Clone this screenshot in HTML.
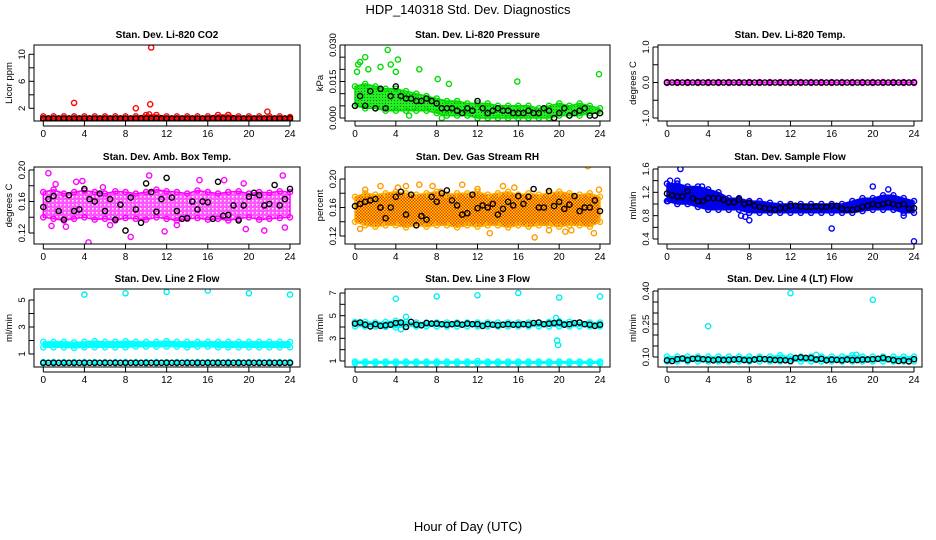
<!DOCTYPE html>
<html><head><meta charset="utf-8"><style>
html,body{margin:0;padding:0;background:#fff;}
svg{display:block;font-family:"Liberation Sans",sans-serif;}
</style></head><body>
<svg id="chart" width="936" height="540" viewBox="0 0 936 540" xmlns="http://www.w3.org/2000/svg">
<defs>
<pattern id="patGreen" width="3" height="3" patternUnits="userSpaceOnUse"><rect width="3" height="3" fill="#22ee22"/><rect x="1" y="1" width="1" height="1" fill="#117711"/></pattern>
<pattern id="patOrange" width="3" height="3" patternUnits="userSpaceOnUse"><rect width="3" height="3" fill="#ffdd00"/><rect x="0" y="0" width="1.5" height="1.5" fill="#ee3300"/><rect x="1.5" y="1.5" width="1.5" height="1.5" fill="#ee3300"/></pattern>
<pattern id="patMagenta" width="4" height="4" patternUnits="userSpaceOnUse"><rect width="4" height="4" fill="#ff55ff"/><rect x="0" y="0" width="1.5" height="1.5" fill="#ffffff"/></pattern>
</defs>
<text x="468" y="14" text-anchor="middle" font-size="13">HDP_140318  Std. Dev. Diagnostics</text>
<text x="468" y="531" text-anchor="middle" font-size="13">Hour of Day (UTC)</text>
</svg>
<script>
const hours = [0,1,2,3,4,5,6,7,8,9,10,11,12,13,14,15,16,17,18,19,20,21,22,23,24];
const halfHours = [0,0.5,1,1.5,2,2.5,3,3.5,4,4.5,5,5.5,6,6.5,7,7.5,8,8.5,9,9.5,10,10.5,11,11.5,12,12.5,13,13.5,14,14.5,15,15.5,16,16.5,17,17.5,18,18.5,19,19.5,20,20.5,21,21.5,22,22.5,23,23.5,24];
const xTicks = [0,4,8,12,16,20,24];

// Panel 1: CO2
const co2Hi = [0.8,0.8,0.8,0.8,0.8,0.8,0.8,0.8,0.8,0.8,1.0,1.0,0.8,0.8,0.8,0.8,0.8,1.0,1.0,0.8,0.8,0.8,0.8,0.8,0.7];
const co2Lo = [0.25,0.25,0.25,0.25,0.25,0.25,0.25,0.25,0.25,0.25,0.25,0.25,0.25,0.25,0.25,0.25,0.25,0.25,0.25,0.25,0.25,0.25,0.25,0.25,0.25];
const co2Black = [0.5,0.5,0.5,0.5,0.5,0.5,0.5,0.5,0.5,0.5,0.5,0.5,0.5,0.5,0.5,0.5,0.5,0.5,0.5,0.5,0.5,0.5,0.5,0.5,0.5,0.5,0.5,0.5,0.5,0.5,0.5,0.5,0.5,0.5,0.5,0.5,0.5,0.5,0.5,0.5,0.5,0.5,0.5,0.5,0.5,0.5,0.5,0.5,0.5];
const co2OutX = [3,9,10.5,10.4,21.8,10.3,18];
const co2OutY = [2.8,2.0,11.0,2.6,1.5,1.1,1.0];

// Panel 2: Pressure
const presHi = [0.013,0.014,0.013,0.012,0.012,0.011,0.010,0.009,0.008,0.007,0.007,0.006,0.006,0.006,0.005,0.005,0.005,0.005,0.004,0.005,0.006,0.005,0.006,0.005,0.004];
const presLo = [0.005,0.004,0.004,0.003,0.003,0.003,0.003,0.003,0.002,0.001,0.001,0.001,0.000,0.000,0.000,0.000,0.000,0.000,0.000,0.000,0.001,0.001,0.001,0.002,0.002];
const presBlack = [0.005,0.009,0.005,0.011,0.004,0.012,0.004,0.009,0.013,0.009,0.008,0.008,0.007,0.007,0.008,0.007,0.006,0.004,0.004,0.004,0.003,0.002,0.004,0.003,0.007,0.004,0.002,0.003,0.004,0.003,0.003,0.002,0.002,0.002,0.003,0.002,0.002,0.004,0.003,0.000,0.002,0.004,0.001,0.002,0.003,0.004,0.001,0.001,0.002];
const presOutX = [0.2,0.3,0.5,1.0,3.2,2.5,3.5,4.2,6.3,4.0,8.1,15.9,23.9,1.3,9.2,5.3,8.5];
const presOutY = [0.019,0.022,0.023,0.025,0.028,0.021,0.022,0.024,0.020,0.019,0.016,0.015,0.018,0.020,0.014,0.001,0.000];

// Panel 3: Li-820 Temp
const tempHi = [0.01,0.01,0.01,0.01,0.01,0.01,0.01,0.01,0.01,0.01,0.01,0.01,0.01,0.01,0.01,0.01,0.01,0.01,0.01,0.01,0.01,0.01,0.01,0.01,0.01];
const tempLo = [-0.01,-0.01,-0.01,-0.01,-0.01,-0.01,-0.01,-0.01,-0.01,-0.01,-0.01,-0.01,-0.01,-0.01,-0.01,-0.01,-0.01,-0.01,-0.01,-0.01,-0.01,-0.01,-0.01,-0.01,-0.01];
const tempBlack = [0,0,0,0,0,0,0,0,0,0,0,0,0,0,0,0,0,0,0,0,0,0,0,0,0,0,0,0,0,0,0,0,0,0,0,0,0,0,0,0,0,0,0,0,0,0,0,0,0];

// Panel 4: Amb. Box Temp
const boxHi = [0.172,0.175,0.170,0.172,0.174,0.172,0.170,0.173,0.172,0.170,0.172,0.175,0.173,0.172,0.170,0.174,0.172,0.170,0.172,0.173,0.170,0.172,0.171,0.173,0.172];
const boxLo = [0.140,0.138,0.136,0.138,0.140,0.137,0.138,0.136,0.139,0.138,0.137,0.140,0.138,0.136,0.138,0.139,0.137,0.138,0.136,0.138,0.140,0.137,0.138,0.139,0.140];
const boxBlack = [0.153,0.163,0.167,0.148,0.137,0.168,0.148,0.150,0.176,0.163,0.160,0.170,0.148,0.163,0.137,0.156,0.123,0.165,0.150,0.133,0.183,0.172,0.147,0.163,0.190,0.165,0.148,0.138,0.139,0.160,0.150,0.160,0.159,0.138,0.185,0.142,0.143,0.155,0.136,0.155,0.166,0.171,0.168,0.155,0.157,0.181,0.155,0.163,0.176];
const boxOutX = [0.5,1.2,4.4,10.3,3.2,3.8,23.3,19.5,0.8,19.7,17.6,6.5,8.5,13.0,21.5,2.2,15.2,23.5,11.8,5.8];
const boxOutY = [0.196,0.182,0.108,0.193,0.185,0.186,0.193,0.183,0.129,0.125,0.187,0.130,0.115,0.130,0.123,0.128,0.187,0.127,0.122,0.178];

// Panel 5: Gas Stream RH
const rhHi = [0.175,0.180,0.178,0.180,0.182,0.180,0.178,0.180,0.182,0.178,0.180,0.180,0.182,0.178,0.180,0.182,0.178,0.180,0.178,0.180,0.182,0.180,0.178,0.180,0.175];
const rhLo = [0.140,0.135,0.133,0.135,0.135,0.132,0.135,0.133,0.135,0.135,0.132,0.135,0.133,0.135,0.135,0.132,0.135,0.133,0.135,0.135,0.133,0.135,0.135,0.133,0.140];
const rhBlack = [0.162,0.165,0.168,0.170,0.172,0.160,0.145,0.160,0.175,0.182,0.150,0.178,0.135,0.148,0.143,0.175,0.168,0.180,0.184,0.170,0.163,0.150,0.152,0.178,0.159,0.163,0.160,0.165,0.150,0.158,0.168,0.163,0.176,0.165,0.175,0.186,0.160,0.160,0.183,0.162,0.168,0.158,0.164,0.176,0.155,0.160,0.160,0.170,0.155];
const rhOutX = [0.5,1.0,4.2,5.0,7.6,8.4,10.5,12.0,13.2,15.6,17.6,19.0,20.6,21.2,22.8,23.4,23.9,2.5,14.5,6.3];
const rhOutY = [0.130,0.185,0.188,0.190,0.190,0.182,0.192,0.186,0.124,0.188,0.118,0.128,0.126,0.128,0.218,0.124,0.185,0.190,0.190,0.192];

// Panel 6: Sample Flow
const flowHi = [1.35,1.35,1.30,1.30,1.25,1.20,1.10,1.10,1.05,1.05,1.02,1.00,1.00,1.00,1.00,1.00,1.00,1.00,1.05,1.10,1.10,1.15,1.15,1.10,1.05];
const flowLo = [1.05,1.00,1.00,0.95,0.90,0.90,0.90,0.90,0.85,0.85,0.85,0.85,0.85,0.85,0.85,0.85,0.85,0.85,0.85,0.88,0.90,0.90,0.90,0.85,0.85];
const flowBlack = [1.18,1.15,1.13,1.13,1.22,1.10,1.05,1.05,1.10,1.10,1.10,1.07,1.03,1.03,1.08,1.00,1.02,0.97,0.95,0.93,0.92,0.90,0.93,0.93,0.97,0.97,0.96,0.95,0.95,0.96,0.95,0.95,0.97,0.97,0.92,0.90,0.90,0.92,0.95,0.97,1.00,0.98,1.00,1.02,1.00,0.98,1.00,0.92,0.93];
const flowOutX = [1.3,8,16,24,20,21.5,0.1,0.3,3.4,7.2,7.6,1.0,23.0];
const flowOutY = [1.60,0.72,0.58,0.36,1.30,1.25,1.05,1.40,1.30,0.80,0.78,1.40,0.80];

// Panel 7: Line 2 Flow
const l2Hi = [1.90,1.90,1.90,1.85,1.90,1.95,1.90,1.90,1.95,1.90,1.90,1.90,1.95,1.90,1.90,1.90,1.90,1.90,1.90,1.90,1.90,1.90,1.90,1.90,1.90];
const l2Lo = [1.50,1.50,1.50,1.45,1.50,1.50,1.50,1.50,1.50,1.55,1.55,1.55,1.55,1.55,1.50,1.55,1.55,1.50,1.50,1.50,1.50,1.50,1.50,1.50,1.50];
const l2LowHi = [0.40,0.40,0.40,0.40,0.40,0.40,0.40,0.40,0.40,0.40,0.40,0.40,0.40,0.40,0.40,0.40,0.40,0.40,0.40,0.40,0.40,0.40,0.40,0.40,0.40];
const l2LowLo = [0.32,0.32,0.32,0.32,0.32,0.32,0.32,0.32,0.32,0.32,0.32,0.32,0.32,0.32,0.32,0.32,0.32,0.32,0.32,0.32,0.32,0.32,0.32,0.32,0.32];
const l2Black = [0.35,0.35,0.35,0.35,0.35,0.35,0.35,0.35,0.35,0.35,0.35,0.35,0.35,0.35,0.35,0.35,0.35,0.35,0.35,0.35,0.35,0.35,0.35,0.35,0.35,0.35,0.35,0.35,0.35,0.35,0.35,0.35,0.35,0.35,0.35,0.35,0.35,0.35,0.35,0.35,0.35,0.35,0.35,0.35,0.35,0.35,0.35,0.35,0.35];
const l2OutX = [4,8,12,16,20,24];
const l2OutY = [5.4,5.5,5.6,5.7,5.5,5.4];

// Panel 8: Line 3 Flow
const l3Hi = [4.45,4.45,4.40,4.45,4.55,4.45,4.40,4.40,4.40,4.40,4.40,4.40,4.40,4.40,4.40,4.40,4.40,4.40,4.40,4.45,4.50,4.45,4.40,4.40,4.40];
const l3Lo = [4.05,4.05,4.05,4.00,3.95,4.05,4.05,4.05,4.05,4.05,4.05,4.05,4.05,4.05,4.05,4.05,4.05,4.05,4.05,4.05,4.05,4.05,4.05,4.05,4.05];
const l3LowHi = [0.95,0.95,0.95,0.95,0.95,0.95,0.95,0.95,0.95,0.95,0.95,0.95,1.00,0.95,0.95,0.95,0.95,0.95,0.95,0.95,0.95,0.95,0.95,0.95,0.95];
const l3LowLo = [0.80,0.80,0.80,0.80,0.80,0.80,0.80,0.80,0.80,0.80,0.80,0.80,0.80,0.80,0.80,0.80,0.80,0.80,0.80,0.80,0.80,0.80,0.80,0.80,0.80];
const l3Black = [4.30,4.40,4.20,4.05,4.25,4.10,4.15,4.20,4.35,4.40,4.00,4.45,4.20,4.15,4.35,4.30,4.30,4.25,4.20,4.25,4.30,4.20,4.30,4.25,4.25,4.10,4.25,4.20,4.15,4.20,4.25,4.20,4.20,4.25,4.20,4.35,4.40,4.25,4.30,4.35,4.40,4.20,4.25,4.35,4.40,4.25,4.20,4.10,4.20];
const l3OutX = [4,8,12,16,20,24,19.8,19.9,19.7,5.0,4.5];
const l3OutY = [6.5,6.7,6.8,7.0,6.6,6.7,2.8,2.4,4.8,4.9,3.8];

// Panel 9: Line 4 (LT) Flow
const l4Hi = [0.102,0.102,0.102,0.102,0.102,0.102,0.102,0.102,0.102,0.102,0.102,0.108,0.102,0.102,0.102,0.102,0.102,0.102,0.108,0.102,0.102,0.102,0.102,0.102,0.102];
const l4Lo = [0.080,0.080,0.080,0.080,0.080,0.080,0.080,0.080,0.080,0.080,0.080,0.080,0.080,0.080,0.080,0.080,0.080,0.080,0.080,0.080,0.080,0.080,0.080,0.080,0.080];
const l4Black = [0.085,0.082,0.090,0.093,0.086,0.092,0.093,0.090,0.088,0.085,0.088,0.086,0.087,0.088,0.090,0.086,0.085,0.088,0.092,0.090,0.088,0.086,0.086,0.085,0.082,0.096,0.098,0.096,0.096,0.088,0.092,0.085,0.088,0.087,0.085,0.088,0.086,0.086,0.088,0.088,0.090,0.092,0.096,0.090,0.086,0.082,0.085,0.080,0.090];
const l4OutX = [4,12,20,14.5,18.4];
const l4OutY = [0.24,0.39,0.36,0.11,0.11];

const panels = [
 {name:'co2',title:'Stan. Dev. Li-820 CO2',ylab:'Licor ppm',box:[34,300,45,121],xr:[43.3,290],yr:[2,108.3,10,54.3],yt:[2,4,6,8,10],yl:[[2,'2'],[6,'6'],[10,'10']],bands:[[co2Hi,co2Lo,'#ff0000']],black:co2Black,ox:co2OutX,oy:co2OutY,oc:'#ff0000'},
 {name:'pressure',title:'Stan. Dev. Li-820 Pressure',ylab:'kPa',box:[345,610,45,121],xr:[355,600],yr:[0,118,0.03,45],yt:[0,0.005,0.01,0.015,0.02,0.025,0.03],yl:[[0,'0.000'],[0.015,'0.015'],[0.03,'0.030']],bands:[[presHi,presLo,'url(#patGreen)','#00dd00']],black:presBlack,ox:presOutX,oy:presOutY,oc:'#00dd00'},
 {name:'li820-temp',title:'Stan. Dev. Li-820 Temp.',ylab:'degrees C',box:[658,922,45,121],xr:[667,914],yr:[-1,118,1,47],yt:[-1,-0.5,0,0.5,1],yl:[[-1,'-1.0'],[0,'0.0'],[1,'1.0']],bands:[[tempHi,tempLo,'#ff00ff']],black:tempBlack,ox:[],oy:[],oc:'#ff00ff'},
 {name:'box-temp',title:'Stan. Dev. Amb. Box Temp.',ylab:'degrees C',box:[34,300,167,244],xr:[43.3,290],yr:[0.12,233,0.2,170],yt:[0.12,0.14,0.16,0.18,0.2],yl:[[0.12,'0.12'],[0.16,'0.16'],[0.2,'0.20']],bands:[[boxHi,boxLo,'url(#patMagenta)','#ff00ff']],black:boxBlack,ox:boxOutX,oy:boxOutY,oc:'#ff00ff'},
 {name:'gas-rh',title:'Stan. Dev. Gas Stream RH',ylab:'percent',box:[345,610,167,244],xr:[355,600],yr:[0.12,236,0.2,179],yt:[0.12,0.14,0.16,0.18,0.2],yl:[[0.12,'0.12'],[0.16,'0.16'],[0.2,'0.20']],bands:[[rhHi,rhLo,'url(#patOrange)','#ffaa00']],black:rhBlack,ox:rhOutX,oy:rhOutY,oc:'#ff9900'},
 {name:'sample-flow',title:'Stan. Dev. Sample Flow',ylab:'ml/min',box:[658,922,167,244],xr:[667,914],yr:[0.4,239,1.6,169],yt:[0.4,0.6,0.8,1.0,1.2,1.4,1.6],yl:[[0.4,'0.4'],[0.8,'0.8'],[1.2,'1.2'],[1.6,'1.6']],bands:[[flowHi,flowLo,'#0000ee']],black:flowBlack,ox:flowOutX,oy:flowOutY,oc:'#0000ff'},
 {name:'line2-flow',title:'Stan. Dev. Line 2 Flow',ylab:'ml/min',box:[34,300,289,367],xr:[43.3,290],yr:[1,354,5,300],yt:[1,2,3,4,5],yl:[[1,'1'],[3,'3'],[5,'5']],bands:[[l2Hi,l2Lo,'#00ffff'],[l2LowHi,l2LowLo,'#00ffff']],black:l2Black,ox:l2OutX,oy:l2OutY,oc:'#00eeee'},
 {name:'line3-flow',title:'Stan. Dev. Line 3 Flow',ylab:'ml/min',box:[345,610,289,367],xr:[355,600],yr:[1,361,7,293],yt:[1,2,3,4,5,6,7],yl:[[1,'1'],[3,'3'],[5,'5'],[7,'7']],bands:[[l3Hi,l3Lo,'#00ffff'],[l3LowHi,l3LowLo,'#00ffff']],black:l3Black,ox:l3OutX,oy:l3OutY,oc:'#00eeee'},
 {name:'line4-flow',title:'Stan. Dev. Line 4 (LT) Flow',ylab:'ml/min',box:[658,922,289,367],xr:[667,914],yr:[0.1,357,0.4,291],yt:[0.1,0.15,0.2,0.25,0.3,0.35,0.4],yl:[[0.1,'0.10'],[0.25,'0.25'],[0.4,'0.40']],bands:[[l4Hi,l4Lo,'#00ffff']],black:l4Black,ox:l4OutX,oy:l4OutY,oc:'#00eeee'}
];

const NS='http://www.w3.org/2000/svg';
const svg=document.getElementById('chart');
function mk(tag,attrs,parent){const e=document.createElementNS(NS,tag);for(const k in attrs)e.setAttribute(k,attrs[k]);(parent||svg).appendChild(e);return e;}
function circ(g,x,y,color){
  const c=mk('circle',{cx:x.toFixed(1),cy:y.toFixed(1),r:2.6,fill:'none',stroke:color,'stroke-width':1.4},g);
  
  
}
panels.forEach(p=>{
  const [bx0,bx1,by0,by1]=p.box;
  const xs=v=>p.xr[0]+(v/24)*(p.xr[1]-p.xr[0]);
  const ys=v=>p.yr[1]+(v-p.yr[0])*(p.yr[3]-p.yr[1])/(p.yr[2]-p.yr[0]);
  const g=mk('g',{});
  
  
  const clipId='clip-'+p.name;
  const cp=mk('clipPath',{id:clipId},g);mk('rect',{x:bx0,y:by0,width:bx1-bx0,height:by1-by0},cp);
  const plot=mk('g',{'clip-path':'url(#'+clipId+')'},g);
  
  
  p.bands.forEach(b=>{
    const [hi,lo,fill,edge]=b;
    let pts=hours.map((h,i)=>xs(h).toFixed(1)+','+ys(hi[i]).toFixed(1));
    pts=pts.concat(hours.map((h,i)=>xs(h).toFixed(1)+','+ys(lo[i]).toFixed(1)).reverse());
    const poly=mk('polygon',{points:pts.join(' '),fill:fill,stroke:edge||fill,'stroke-width':1.5,'stroke-linejoin':'round'},plot);
    
    
    hours.forEach((h,i)=>{circ(plot,xs(h),ys(hi[i]),edge||fill);circ(plot,xs(h),ys(lo[i]),edge||fill);});
  });
  p.ox.forEach((x,i)=>circ(plot,xs(x),ys(p.oy[i]),p.oc));
  p.black.forEach((v,i)=>circ(plot,xs(halfHours[i]),ys(v),'#000'));
  const box=mk('rect',{x:bx0,y:by0,width:bx1-bx0,height:by1-by0,fill:'none',stroke:'#000','stroke-width':1},g);
  
  
  const t=mk('text',{x:(bx0+bx1)/2,y:by0-7,'text-anchor':'middle','font-size':10,'font-weight':'bold'},g);
  t.textContent=p.title;
  
  
  xTicks.forEach(v=>{
    mk('line',{x1:xs(v),x2:xs(v),y1:by1,y2:by1+5,stroke:'#000'},g);
    const l=mk('text',{x:xs(v),y:by1+16,'text-anchor':'middle','font-size':10},g);
    l.textContent=v;
    
    
  });
  mk('line',{x1:xs(0),x2:xs(24),y1:by1+5,y2:by1+5,stroke:'#000'},g);
  p.yt.forEach(v=>mk('line',{x1:bx0,x2:bx0-5,y1:ys(v),y2:ys(v),stroke:'#000'},g));
  mk('line',{x1:bx0-5,x2:bx0-5,y1:ys(p.yt[0]),y2:ys(p.yt[p.yt.length-1]),stroke:'#000'},g);
  p.yl.forEach(([v,s])=>{
    const yy=ys(v);
    const l=mk('text',{x:bx0-9,y:yy,'text-anchor':'middle','font-size':9.5,transform:'rotate(-90 '+(bx0-9)+' '+yy+')'},g);
    l.textContent=s;
    
    
  });
  const yc=(by0+by1)/2, yx=bx0-22;
  const yl=mk('text',{x:yx,y:yc,'text-anchor':'middle','font-size':9.5,transform:'rotate(-90 '+yx+' '+yc+')'},g);
  yl.textContent=p.ylab;
  
  
});
</script>
</body></html>
